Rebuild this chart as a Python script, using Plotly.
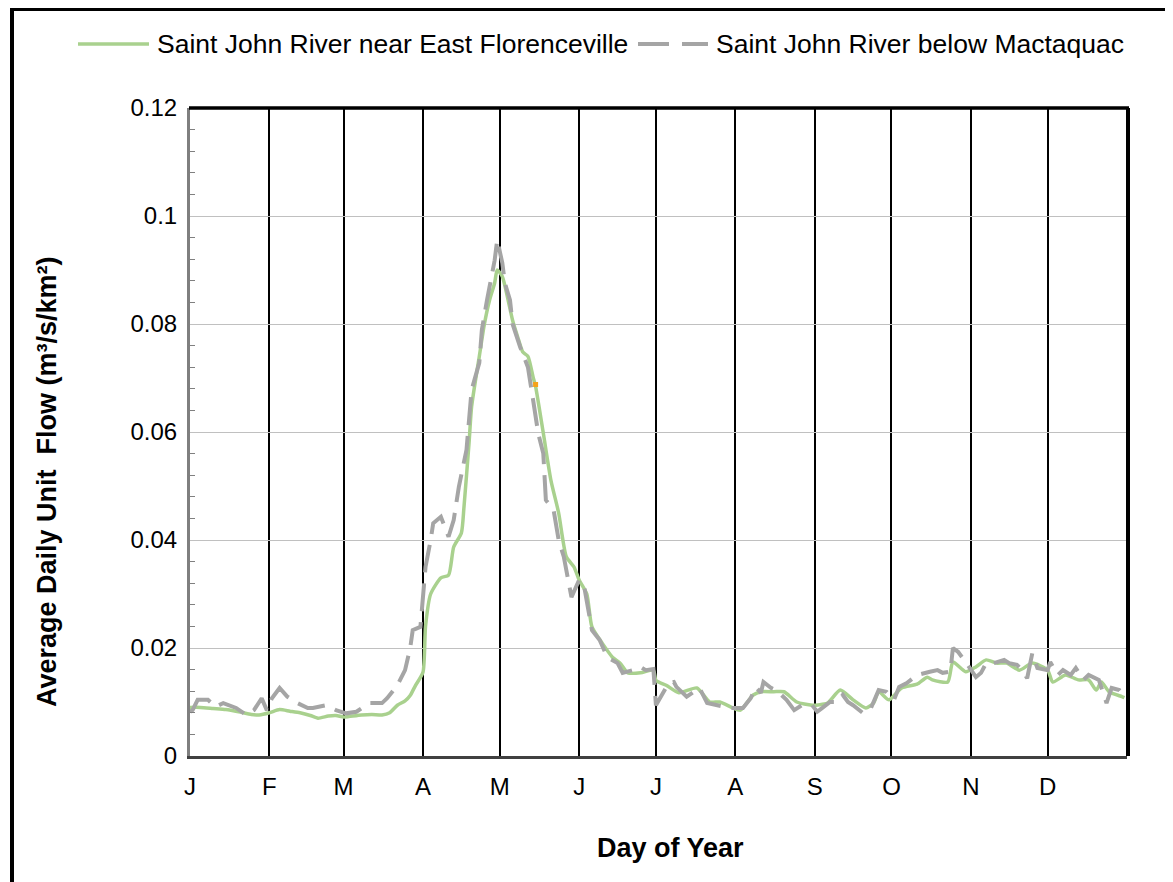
import plotly.graph_objects as go

# ---------------- data ----------------
# Day of year on a 366-day (leap-year) calendar axis
florenceville_days = [1, 5, 10, 15, 20, 25, 28, 32, 36, 40, 44, 48, 51, 55, 58, 61, 63, 68, 72, 76,
                      79, 82, 85, 87, 89, 92, 93, 95, 99, 102, 104, 107, 108, 110, 111, 114, 116, 118,
                      120, 121, 123, 125, 127, 129, 131, 133, 135, 136, 139, 142, 145, 148, 151, 153,
                      156, 158, 162, 166, 169, 172, 177, 182, 183, 187, 192, 199, 204, 208, 213, 216,
                      221, 224, 229, 233, 238, 244, 250, 255, 260, 265, 268, 270, 274, 279, 285, 289,
                      291, 297, 299, 304, 308, 312, 316, 320, 325, 330, 336, 338, 343, 348, 352, 355,
                      357, 360, 365, 366]
florenceville_flow = [0.0090, 0.0090, 0.0088, 0.0086, 0.0082, 0.0077, 0.0076, 0.0080, 0.0086, 0.0083,
                      0.0080, 0.0075, 0.0070, 0.0074, 0.0075, 0.0072, 0.0073, 0.0076, 0.0077, 0.0076,
                      0.0080, 0.0094, 0.0102, 0.0112, 0.0130, 0.0155, 0.0240, 0.0300, 0.0330, 0.0335,
                      0.0387, 0.0413, 0.0460, 0.0580, 0.0647, 0.0740, 0.0800, 0.0844, 0.0876, 0.0900,
                      0.0888, 0.0850, 0.0807, 0.0776, 0.0748, 0.0740, 0.0702, 0.0684, 0.0598, 0.0510,
                      0.0450, 0.0369, 0.0350, 0.0326, 0.0300, 0.0239, 0.0209, 0.0183, 0.0172, 0.0154,
                      0.0154, 0.0159, 0.0140, 0.0131, 0.0117, 0.0126, 0.0100, 0.0100, 0.0089, 0.0085,
                      0.0113, 0.0119, 0.0119, 0.0119, 0.0100, 0.0094, 0.0098, 0.0122, 0.0104, 0.0089,
                      0.0098, 0.0119, 0.0104, 0.0126, 0.0133, 0.0146, 0.0141, 0.0137, 0.0174, 0.0156,
                      0.0165, 0.0178, 0.0172, 0.0172, 0.0159, 0.0172, 0.0159, 0.0137, 0.0150, 0.0141,
                      0.0141, 0.0122, 0.0137, 0.0119, 0.0110, 0.0108]

mactaquac_days = [1, 2, 4, 8, 11, 14, 19, 23, 26, 29, 31, 33, 36, 39, 43, 47, 49, 54, 58, 62, 66, 69,
                  71, 76, 78, 82, 85, 87, 88, 91, 92, 93, 95, 96, 99, 102, 104, 106, 109, 110, 111, 114,
                  115, 117, 118, 120, 121, 123, 124, 126, 127, 130, 133, 134, 135, 137, 139, 140, 143,
                  145, 147, 150, 153, 155, 158, 161, 164, 168, 170, 174, 177, 179, 182, 183, 186, 188,
                  190, 191, 195, 200, 203, 208, 212, 217, 220, 222, 224, 225, 228, 230, 234, 237, 240,
                  244, 246, 248, 251, 254, 256, 258, 260, 264, 267, 270, 273, 276, 278, 281, 285, 290,
                  293, 295, 298, 299, 301, 304, 308, 310, 312, 315, 319, 321, 324, 326, 328, 330, 332,
                  336, 337, 340, 342, 345, 347, 350, 352, 356, 359, 361, 364, 366]
mactaquac_flow = [0.0082, 0.0085, 0.0104, 0.0104, 0.0091, 0.0098, 0.0089, 0.0076, 0.0085, 0.0107,
                  0.0085, 0.0107, 0.0126, 0.0110, 0.0098, 0.0089, 0.0089, 0.0094, 0.0085, 0.0079,
                  0.0082, 0.0091, 0.0098, 0.0098, 0.0107, 0.0131, 0.0159, 0.0200, 0.0233, 0.0239,
                  0.0300, 0.0350, 0.0400, 0.0431, 0.0443, 0.0406, 0.0437, 0.0498, 0.0567, 0.0635,
                  0.0678, 0.0728, 0.0789, 0.0844, 0.0869, 0.0918, 0.0956, 0.0913, 0.0876, 0.0844,
                  0.0800, 0.0757, 0.0720, 0.0684, 0.0660, 0.0598, 0.0560, 0.0474, 0.0456, 0.0400,
                  0.0369, 0.0294, 0.0326, 0.0313, 0.0233, 0.0215, 0.0183, 0.0172, 0.0154, 0.0159,
                  0.0165, 0.0159, 0.0161, 0.0094, 0.0117, 0.0135, 0.0137, 0.0128, 0.0110, 0.0126,
                  0.0098, 0.0094, 0.0089, 0.0089, 0.0107, 0.0128, 0.0117, 0.0137, 0.0126, 0.0122,
                  0.0104, 0.0085, 0.0094, 0.0094, 0.0082, 0.0089, 0.0100, 0.0100, 0.0113, 0.0100,
                  0.0094, 0.0079, 0.0089, 0.0122, 0.0119, 0.0104, 0.0128, 0.0135, 0.0150, 0.0156,
                  0.0159, 0.0154, 0.0156, 0.0200, 0.0193, 0.0174, 0.0146, 0.0154, 0.0172, 0.0172,
                  0.0178, 0.0172, 0.0169, 0.0159, 0.0144, 0.0190, 0.0163, 0.0159, 0.0174, 0.0150,
                  0.0159, 0.0150, 0.0163, 0.0141, 0.0150, 0.0141, 0.0098, 0.0126, 0.0122, 0.0110]

highlight_day = [136]
highlight_flow = [0.0688]

month_start_days = [1, 32, 61, 92, 122, 153, 183, 214, 245, 275, 306, 336]
month_labels = ["J", "F", "M", "A", "M", "J", "J", "A", "S", "O", "N", "D"]

series_names = ["Saint John River near East Florenceville", "Saint John River below Mactaquac"]

# ---------------- layout geometry ----------------
# The page body has an 8px margin, so the figure is made 8px smaller and all
# positions below are expressed in page pixels.
OFF = 8
W, H = 1173 - OFF, 882 - OFF
PL, PR, PT, PB = 190, 1127, 108, 756          # plot area in page pixels
FONT = "Liberation Sans, Arial, sans-serif"
GREEN = "#A9D18E"
GREY = "#A5A5A5"


def px(x):
    return (x - PL) / (PR - PL)


def py(y):
    return (PB - y) / (PB - PT)


fig = go.Figure()

fig.add_trace(go.Scatter(
    x=florenceville_days, y=florenceville_flow, name=series_names[0], mode="lines",
    line=dict(color=GREEN, width=3.5, shape="spline", smoothing=0.6), showlegend=False))
fig.add_trace(go.Scatter(
    x=mactaquac_days, y=mactaquac_flow, name=series_names[1], mode="lines",
    line=dict(color=GREY, width=4, dash="28px,11px"), showlegend=False))
fig.add_trace(go.Scatter(
    x=highlight_day, y=highlight_flow, mode="markers", showlegend=False, hoverinfo="skip",
    marker=dict(color="#F5A21B", size=5, symbol="square")))

shapes = []
# plot area top and right borders
shapes.append(dict(type="line", xref="paper", yref="paper", x0=px(PL - 1), x1=px(PR + 2),
                   y0=py(PT), y1=py(PT), line=dict(color="black", width=3.5)))
shapes.append(dict(type="line", xref="paper", yref="paper", x0=px(PR + 1), x1=px(PR + 1),
                   y0=py(PB), y1=py(PT), line=dict(color="black", width=4)))
# outer figure frame (left and top visible)
shapes.append(dict(type="line", xref="paper", yref="paper", x0=px(12), x1=px(12),
                   y0=py(900), y1=py(8), line=dict(color="black", width=4)))
shapes.append(dict(type="line", xref="paper", yref="paper", x0=px(10), x1=px(1200),
                   y0=py(9.5), y1=py(9.5), line=dict(color="black", width=3)))
# legend samples
LEG_Y = 44
shapes.append(dict(type="line", xref="paper", yref="paper", x0=px(78), x1=px(149),
                   y0=py(LEG_Y), y1=py(LEG_Y), line=dict(color=GREEN, width=3.5)))
for a, b in [(638, 669), (682, 708)]:
    shapes.append(dict(type="line", xref="paper", yref="paper", x0=px(a), x1=px(b),
                       y0=py(LEG_Y), y1=py(LEG_Y), line=dict(color=GREY, width=4)))

annotations = [
    dict(text=series_names[0], xref="paper", yref="paper", x=px(155), y=py(LEG_Y),
         xanchor="left", yanchor="middle", showarrow=False, font=dict(size=26.5, color="black", family=FONT)),
    dict(text=series_names[1], xref="paper", yref="paper", x=px(714), y=py(LEG_Y),
         xanchor="left", yanchor="middle", showarrow=False, font=dict(size=26.5, color="black", family=FONT)),
    dict(text="<b>Day of Year</b>", xref="paper", yref="paper", x=px(670), y=py(848),
         xanchor="center", yanchor="middle", showarrow=False, font=dict(size=27, color="black", family=FONT)),
    dict(text="<b>Average Daily Unit  Flow (m³/s/km²)</b>", xref="paper", yref="paper",
         x=px(47), y=py(482), textangle=-90, xanchor="center", yanchor="middle", showarrow=False,
         font=dict(size=27, color="black", family=FONT)),
]

fig.update_layout(
    width=W, height=H, autosize=False,
    margin=dict(l=PL - OFF, r=(W + OFF) - PR, t=PT - OFF, b=(H + OFF) - PB, pad=0),
    paper_bgcolor="white", plot_bgcolor="white",
    font=dict(family=FONT, size=24, color="black"),
    showlegend=False,
    shapes=shapes, annotations=annotations,
    xaxis=dict(range=[1, 367], tickmode="array", tickvals=month_start_days, ticktext=month_labels,
               showgrid=True, gridcolor="black", gridwidth=1.5, zeroline=False,
               showline=True, linecolor="#404040", linewidth=3, ticks="", ticklabelstandoff=7,
               tickfont=dict(size=24, family=FONT, color="black")),
    yaxis=dict(range=[0, 0.12], dtick=0.02, tick0=0, showgrid=True, gridcolor="#C0C0C0", gridwidth=1.2,
               zeroline=False, showline=True, linecolor="#7F7F7F", linewidth=3, ticks="",
               ticklabelstandoff=5, tickfont=dict(size=24, family=FONT, color="black"),
               minor=dict(dtick=0.004, ticks="inside", ticklen=5, tickcolor="#808080", tickwidth=1,
                          showgrid=False)),
)

fig.write_html("out.html")
